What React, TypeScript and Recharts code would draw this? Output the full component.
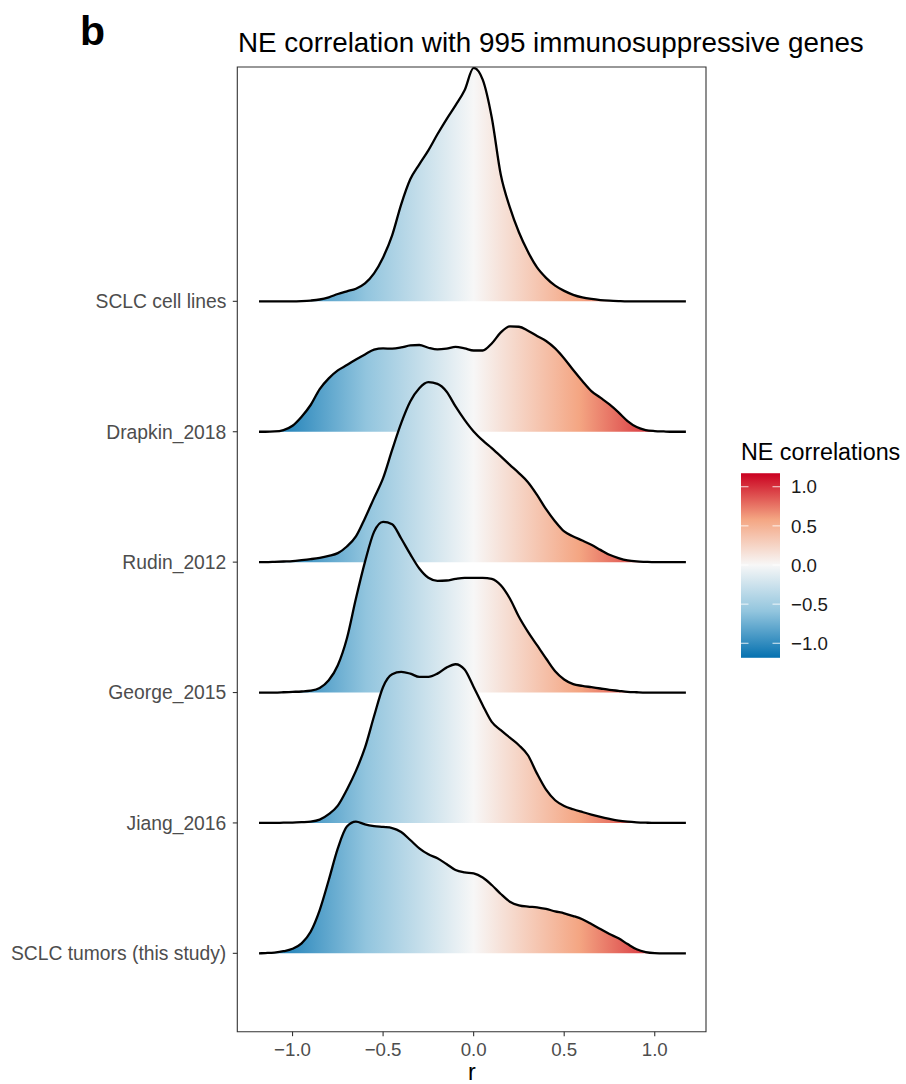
import React from "react";
import { ComposedChart, Area, XAxis, YAxis, ReferenceArea } from "recharts";

// r grid shared by every ridge (7 per line)
const R_VALUES = [
  -1.185, -1.15, -1.1, -1.05, -1, -0.95, -0.9,
  -0.85, -0.8, -0.75, -0.7, -0.65, -0.6, -0.55,
  -0.5, -0.45, -0.4, -0.35, -0.3, -0.25, -0.2,
  -0.15, -0.1, -0.05, 0, 0.05, 0.1, 0.15,
  0.2, 0.25, 0.3, 0.35, 0.4, 0.45, 0.5,
  0.55, 0.6, 0.65, 0.7, 0.75, 0.8, 0.85,
  0.9, 0.95, 1, 1.05, 1.1, 1.15, 1.172,
];

// scaled density heights (in units of row spacing)
const CELL_LINES = [
  0, 0, 0, 0, 0, 0.002, 0.006,
  0.014, 0.031, 0.056, 0.077, 0.097, 0.138, 0.215,
  0.337, 0.506, 0.744, 0.936, 1.051, 1.158, 1.281,
  1.396, 1.503, 1.618, 1.79, 1.7, 1.41, 0.97,
  0.72, 0.53, 0.38, 0.26, 0.18, 0.12, 0.08,
  0.05, 0.03, 0.018, 0.01, 0.005, 0.002, 0,
  0, 0, 0, 0, 0, 0, 0,
];
const DRAPKIN_2018 = [
  0, 0, 0.002, 0.013, 0.046, 0.115, 0.205,
  0.327, 0.409, 0.47, 0.511, 0.554, 0.593, 0.629,
  0.639, 0.637, 0.646, 0.662, 0.665, 0.644, 0.631,
  0.637, 0.65, 0.639, 0.623, 0.623, 0.677, 0.762,
  0.808, 0.805, 0.775, 0.734, 0.696, 0.639, 0.562,
  0.473, 0.389, 0.312, 0.261, 0.209, 0.148, 0.082,
  0.036, 0.013, 0.005, 0.002, 0, 0, 0,
];
const RUDIN_2012 = [
  0, 0, 0.002, 0.005, 0.008, 0.015, 0.023,
  0.033, 0.048, 0.069, 0.12, 0.197, 0.337, 0.491,
  0.644, 0.861, 1.066, 1.232, 1.334, 1.38, 1.367,
  1.309, 1.194, 1.091, 1.002, 0.933, 0.874, 0.811,
  0.746, 0.683, 0.613, 0.516, 0.406, 0.312, 0.235,
  0.197, 0.166, 0.133, 0.094, 0.056, 0.031, 0.013,
  0.005, 0.002, 0, 0, 0, 0, 0,
];
const GEORGE_2015 = [
  0, 0, 0, 0.002, 0.005, 0.008, 0.014,
  0.035, 0.094, 0.209, 0.414, 0.721, 1.002, 1.232,
  1.309, 1.291, 1.181, 1.061, 0.951, 0.88, 0.857,
  0.859, 0.872, 0.88, 0.88, 0.88, 0.872, 0.823,
  0.721, 0.581, 0.465, 0.363, 0.261, 0.163, 0.1,
  0.064, 0.051, 0.041, 0.031, 0.021, 0.013, 0.005,
  0.002, 0, 0, 0, 0, 0, 0,
];
const JIANG_2016 = [
  0, 0, 0, 0.002, 0.003, 0.006, 0.01,
  0.025, 0.067, 0.133, 0.255, 0.399, 0.577, 0.818,
  1.043, 1.14, 1.158, 1.145, 1.12, 1.12, 1.145,
  1.191, 1.217, 1.176, 1.043, 0.903, 0.775, 0.711,
  0.654, 0.596, 0.519, 0.378, 0.255, 0.174, 0.13,
  0.105, 0.084, 0.064, 0.046, 0.031, 0.018, 0.01,
  0.005, 0.002, 0, 0, 0, 0, 0,
];
const SCLC_TUMORS = [
  0, 0.002, 0.006, 0.016, 0.035, 0.077, 0.166,
  0.332, 0.562, 0.805, 0.972, 1.01, 0.989, 0.976,
  0.969, 0.961, 0.93, 0.869, 0.805, 0.759, 0.729,
  0.685, 0.639, 0.621, 0.613, 0.581, 0.524, 0.455,
  0.396, 0.368, 0.358, 0.353, 0.34, 0.322, 0.307,
  0.286, 0.261, 0.225, 0.186, 0.148, 0.115, 0.071,
  0.031, 0.01, 0.002, 0, 0, 0, 0,
];

const ROW_LABELS = [
  "SCLC tumors (this study)",
  "Jiang_2016",
  "George_2015",
  "Rudin_2012",
  "Drapkin_2018",
  "SCLC cell lines",
];

const X_TICKS = [-1, -0.5, 0, 0.5, 1];
const LEGEND_TICKS = [1, 0.5, 0, -0.5, -1];
const R_MIN = -1.185;
const R_MAX = 1.172;

// top ridge first so lower ridges overlap it
const SERIES = [
  { key: "cell", row: 6, values: CELL_LINES },
  { key: "drapkin", row: 5, values: DRAPKIN_2018 },
  { key: "rudin", row: 4, values: RUDIN_2012 },
  { key: "george", row: 3, values: GEORGE_2015 },
  { key: "jiang", row: 2, values: JIANG_2016 },
  { key: "tumors", row: 1, values: SCLC_TUMORS },
];

const chartData = R_VALUES.map((r, i) => {
  const d: any = { r };
  SERIES.forEach((s) => {
    d[s.key] = s.row + s.values[i];
  });
  return d;
});

const FONT = '"Liberation Sans", Arial, Helvetica, sans-serif';
const RDBU = ["#0571B0", "#92C5DE", "#F7F7F7", "#F4A582", "#CA0020"];
const zeroPos = (0 - R_MIN) / (R_MAX - R_MIN);

const fmt = (v: number) => (v < 0 ? "\u2212" : "") + Math.abs(v).toFixed(1);

function Overlay() {
  // legend colour bar geometry
  const barX = 741;
  const barW = 39;
  const zeroY = 565;
  const unit = 78.3;
  const top = zeroY - unit * R_MAX;
  const bottom = zeroY - unit * R_MIN;
  return (
    <svg
      width={906}
      height={1084}
      style={{ position: "absolute", left: 0, top: 0, pointerEvents: "none" }}
    >
      <defs>
        <linearGradient id="legendGrad" x1="0" y1="1" x2="0" y2="0">
          <stop offset={0} stopColor={RDBU[0]} />
          <stop offset={zeroPos / 2} stopColor={RDBU[1]} />
          <stop offset={zeroPos} stopColor={RDBU[2]} />
          <stop offset={zeroPos + (1 - zeroPos) / 2} stopColor={RDBU[3]} />
          <stop offset={1} stopColor={RDBU[4]} />
        </linearGradient>
      </defs>
      <text x={80} y={45} fontFamily={FONT} fontWeight="bold" fontSize={41} fill="#000">
        b
      </text>
      <text x={238} y={52} fontFamily={FONT} fontSize={27.8} fill="#000">
        NE correlation with 995 immunosuppressive genes
      </text>
      <text x={472} y={1080} fontFamily={FONT} fontSize={23.3} fill="#000" textAnchor="middle">
        r
      </text>
      <text x={741} y={460} fontFamily={FONT} fontSize={23.3} fill="#000">
        NE correlations
      </text>
      <rect x={barX} y={top} width={barW} height={bottom - top} fill="url(#legendGrad)" />
      {LEGEND_TICKS.map((v) => {
        const y = zeroY - unit * v;
        return (
          <g key={v}>
            <line x1={barX} x2={barX + 7.5} y1={y} y2={y} stroke="#fff" strokeOpacity={0.7} strokeWidth={1.2} />
            <line x1={barX + barW - 7.5} x2={barX + barW} y1={y} y2={y} stroke="#fff" strokeOpacity={0.7} strokeWidth={1.2} />
            <text x={791} y={y} dy="0.36em" fontFamily={FONT} fontSize={18.7} fill="#1a1a1a">
              {fmt(v)}
            </text>
          </g>
        );
      })}
    </svg>
  );
}

export default function App() {
  return (
    <div style={{ position: "absolute", left: 0, top: 0, width: 906, height: 1084, background: "#fff" }}>
      <ComposedChart
        width={906}
        height={1084}
        data={chartData}
        margin={{ top: 67, right: 200, bottom: 0, left: 0 }}
      >
        <defs>
          <linearGradient id="ridgeGrad" x1="0" y1="0" x2="1" y2="0">
            <stop offset={0} stopColor={RDBU[0]} />
            <stop offset={zeroPos / 2} stopColor={RDBU[1]} />
            <stop offset={zeroPos} stopColor={RDBU[2]} />
            <stop offset={zeroPos + (1 - zeroPos) / 2} stopColor={RDBU[3]} />
            <stop offset={1} stopColor={RDBU[4]} />
          </linearGradient>
        </defs>
        <XAxis
          dataKey="r"
          type="number"
          domain={[-1.305, 1.283]}
          allowDataOverflow
          ticks={X_TICKS}
          tickFormatter={fmt}
          height={52.3}
          axisLine={false}
          tickLine={{ stroke: "#333", strokeWidth: 1.1 }}
          tickSize={4.5}
          tickMargin={7}
          tick={{ fill: "#4D4D4D", fontSize: 18.7, fontFamily: FONT }}
        />
        <YAxis
          type="number"
          domain={[0.399, 7.797]}
          allowDataOverflow
          ticks={[1, 2, 3, 4, 5, 6]}
          tickFormatter={(v: number) => ROW_LABELS[v - 1]}
          width={237.3}
          axisLine={false}
          tickLine={{ stroke: "#333", strokeWidth: 1.1 }}
          tickSize={4.5}
          tickMargin={6.5}
          tick={{ fill: "#4D4D4D", fontSize: 19.3, fontFamily: FONT }}
        />
        {SERIES.map((s) => (
          <Area
            key={s.key}
            dataKey={s.key}
            baseValue={s.row}
            type="monotone"
            stroke="#000"
            strokeWidth={2.3}
            fill="url(#ridgeGrad)"
            fillOpacity={1}
            dot={false}
            activeDot={false}
            isAnimationActive={false}
          />
        ))}
        <ReferenceArea
          x1={-1.305}
          x2={1.283}
          y1={0.399}
          y2={7.797}
          fill="none"
          stroke="#333"
          strokeWidth={1.1}
          ifOverflow="visible"
        />
      </ComposedChart>
      <Overlay />
    </div>
  );
}
